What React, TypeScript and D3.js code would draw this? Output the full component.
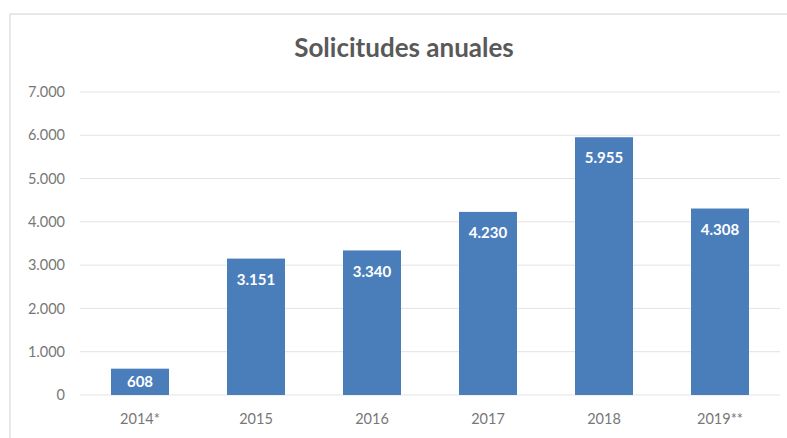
import React from "react";
import * as d3 from "d3";

const categories = ["2014*", "2015", "2016", "2017", "2018", "2019**"];
const values = [608, 3151, 3340, 4230, 5955, 4308];
const yTicks = [0, 1000, 2000, 3000, 4000, 5000, 6000, 7000];
const title = "Solicitudes anuales";

const W = 787;
const H = 438;
const FONT = "Lato, 'Open Sans', sans-serif";

const fmt = (v: number) => d3.format(",")(v).replace(/,/g, ".");

export default function App() {
  const x = d3.scaleBand<string>().domain(categories).range([82, 778]).paddingInner(0.5).paddingOuter(0.25);
  const y = d3.scaleLinear().domain([0, 7000]).range([395, 92]);
  return (
    <svg width={W} height={H} style={{ position: "absolute", left: 0, top: 0 }}>
      <rect x={0} y={0} width={W} height={H} fill="#fff" />
      <rect x={10} y={14} width={W} height={H} fill="#fff" stroke="#d9d9d9" strokeWidth={1.2} />
      <text x={404} y={57} textAnchor="middle" fontFamily={FONT} fontSize={26} fontWeight="bold" fill="#595959">
        {title}
      </text>
      {yTicks.map((t) => (
        <g key={t}>
          <line x1={80} x2={780} y1={y(t)} y2={y(t)} stroke="#e3e3e3" strokeWidth={1} />
          <text x={65} y={y(t)} dy="0.35em" textAnchor="end" fontFamily={FONT} fontSize={14.5} fill="#777">
            {fmt(t)}
          </text>
        </g>
      ))}
      {categories.map((c, i) => {
        const top = y(values[i]);
        const bottom = y(0);
        const ly = Math.min(top + 21, (top + bottom) / 2);
        const cx = (x(c) as number) + x.bandwidth() / 2;
        return (
          <g key={c}>
            <rect x={x(c)} y={top} width={x.bandwidth()} height={bottom - top} fill="#4a7ebb" />
            <text x={cx} y={ly} dy="0.35em" textAnchor="middle" fontFamily={FONT} fontSize={15} fontWeight="bold" fill="#fff">
              {fmt(values[i])}
            </text>
            <text x={cx} y={419} dy="0.35em" textAnchor="middle" fontFamily={FONT} fontSize={14.5} fill="#777">
              {c}
            </text>
          </g>
        );
      })}
    </svg>
  );
}
